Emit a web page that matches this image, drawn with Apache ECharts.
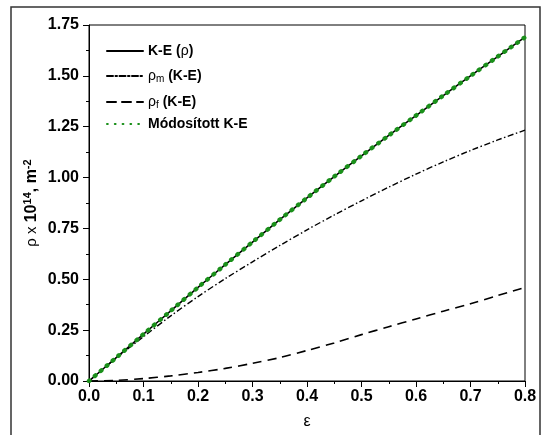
<!DOCTYPE html>
<html>
<head>
<meta charset="utf-8">
<script src="https://cdn.jsdelivr.net/npm/echarts@6/dist/echarts.min.js"></script>
<style>
html,body{margin:0;padding:0;background:#fff;}
#c{width:545px;height:435px;}
</style>
</head>
<body>
<div id="c"></div>
<script>
// strain values
const eps = [0, 0.05, 0.1, 0.15, 0.2, 0.25, 0.3, 0.35, 0.4, 0.45, 0.5, 0.55, 0.6, 0.65, 0.7, 0.75, 0.8];
// total dislocation density K-E (rho), x10^14 m^-2
const rhoTotal = [0, 0.115, 0.23, 0.345, 0.46, 0.572, 0.683, 0.793, 0.90, 1.005, 1.107, 1.207, 1.305, 1.403, 1.50, 1.595, 1.69];
// mobile dislocation density rho_m (K-E)
const rhoM = [0, 0.113, 0.218, 0.32, 0.415, 0.503, 0.586, 0.666, 0.743, 0.816, 0.886, 0.953, 1.017, 1.077, 1.133, 1.185, 1.233];
// forest dislocation density rho_f (K-E)
const rhoF = [0, 0.003, 0.012, 0.025, 0.042, 0.062, 0.087, 0.115, 0.15, 0.187, 0.228, 0.267, 0.305, 0.343, 0.38, 0.42, 0.46];
// modified K-E model
const rhoMod = [0, 0.115, 0.23, 0.345, 0.46, 0.572, 0.683, 0.793, 0.90, 1.005, 1.107, 1.207, 1.305, 1.403, 1.50, 1.595, 1.69];
// tick labels
const xTicks = ['0.0','0.1','0.2','0.3','0.4','0.5','0.6','0.7','0.8'];
const yTicks = ['0.00','0.25','0.50','0.75','1.00','1.25','1.50','1.75'];
const seriesNames = ['K-E (ρ)', 'ρm (K-E)', 'ρf (K-E)', 'Módosított K-E'];

const pairs = arr => eps.map((e, i) => [e, arr[i]]);
const F = 'Arial, "Liberation Sans", sans-serif';

const chart = echarts.init(document.getElementById('c'), null, {renderer: 'canvas'});
const legendFmt = {
  'K-E (ρ)': '{b|K-E (}{r|ρ}{b|)}',
  'ρm (K-E)': '{r|ρ}{sub|m}{b| (K-E)}',
  'ρf (K-E)': '{r|ρ}{sub|f}{b| (K-E)}',
  'Módosított K-E': '{b|Módosított K-E}'
};
chart.setOption({
  backgroundColor: '#fff',
  animation: false,
  graphic: [{
    type: 'rect', shape: {x: 11, y: 7, width: 529, height: 440},
    style: {fill: 'none', stroke: '#333', lineWidth: 1.5}, silent: true, z: 100
  }],
  grid: {left: 89, right: 20, top: 25, bottom: 51, show: true, borderColor: '#000', borderWidth: 1, backgroundColor: 'transparent'},
  legend: {
    orient: 'vertical', left: 101, top: 39, itemWidth: 36, itemHeight: 14, itemGap: 7,
    data: seriesNames,
    formatter: n => legendFmt[n],
    itemStyle: {opacity: 0},
    lineStyle: {cap: 'round'},
    textStyle: {
      padding: [0, 0, 0, 0],
      rich: {
        b: {fontFamily: F, fontWeight: 'bold', fontSize: 14, color: '#000', lineHeight: 16},
        r: {fontFamily: F, fontWeight: 'normal', fontSize: 14, color: '#000', lineHeight: 16},
        sub: {fontFamily: F, fontWeight: 'normal', fontSize: 10, color: '#000', verticalAlign: 'bottom', lineHeight: 16, padding: [9, 0, 0, 0]}
      }
    }
  },
  xAxis: {
    type: 'value', min: 0, max: 0.8, interval: 0.1,
    name: 'ε', nameLocation: 'middle', nameGap: 33,
    nameTextStyle: {fontFamily: F, fontSize: 16, color: '#000'},
    axisLine: {show: true, lineStyle: {color: '#000', width: 1}},
    axisTick: {show: true, inside: false, length: 6, lineStyle: {color: '#000'}},
    minorTick: {show: true, splitNumber: 2, length: 3, lineStyle: {color: '#000'}},
    splitLine: {show: false},
    axisLabel: {margin: 8, fontFamily: F, fontWeight: 'bold', fontSize: 16, color: '#000',
      formatter: v => xTicks[Math.round(v * 10)]}
  },
  yAxis: {
    type: 'value', min: 0, max: 1.75, interval: 0.25,
    name: '{r|ρ x }{b|10}{sup|14}{b|, m}{sup|-2}', nameLocation: 'middle', nameGap: 47, nameRotate: 90,
    nameMoveOverlap: false,
    nameTextStyle: {
      rich: {
        r: {fontFamily: F, fontSize: 15, color: '#000', lineHeight: 20},
        b: {fontFamily: F, fontSize: 16, fontWeight: 'bold', color: '#000', lineHeight: 20},
        sup: {fontFamily: F, fontSize: 11, fontWeight: 'bold', color: '#000', verticalAlign: 'top', lineHeight: 20, padding: [0, 0, 8, 0]}
      }
    },
    axisLine: {show: true, lineStyle: {color: '#000', width: 1}},
    axisTick: {show: true, inside: false, length: 6, lineStyle: {color: '#000'}},
    minorTick: {show: true, splitNumber: 2, length: 3, lineStyle: {color: '#000'}},
    splitLine: {show: false},
    axisLabel: {margin: 10, fontFamily: F, fontWeight: 'bold', fontSize: 16, color: '#000',
      formatter: v => yTicks[Math.round(v * 4)]}
  },
  series: [
    {name: seriesNames[0], type: 'line', data: pairs(rhoTotal), showSymbol: false, symbol: 'none', smooth: 0.3,
      lineStyle: {color: '#000', width: 1.6, type: 'solid'}, itemStyle: {color: '#000'}, z: 3},
    {name: seriesNames[1], type: 'line', data: pairs(rhoM), showSymbol: false, symbol: 'none', smooth: 0.3,
      lineStyle: {color: '#000', width: 1.4, type: [6, 2.5, 1.5, 2.5]}, itemStyle: {color: '#000'}, z: 2},
    {name: seriesNames[2], type: 'line', data: pairs(rhoF), showSymbol: false, symbol: 'none', smooth: 0.3,
      lineStyle: {color: '#000', width: 1.6, type: [9, 6]}, itemStyle: {color: '#000'}, z: 2},
    {name: seriesNames[3], type: 'line', data: pairs(rhoMod), showSymbol: false, symbol: 'none', smooth: 0.3,
      lineStyle: {color: '#1a901a', width: 4.4, type: [0.8, 7], cap: 'round'}, itemStyle: {color: '#1a901a'}, z: 4}
  ]
});
</script>
</body>
</html>
